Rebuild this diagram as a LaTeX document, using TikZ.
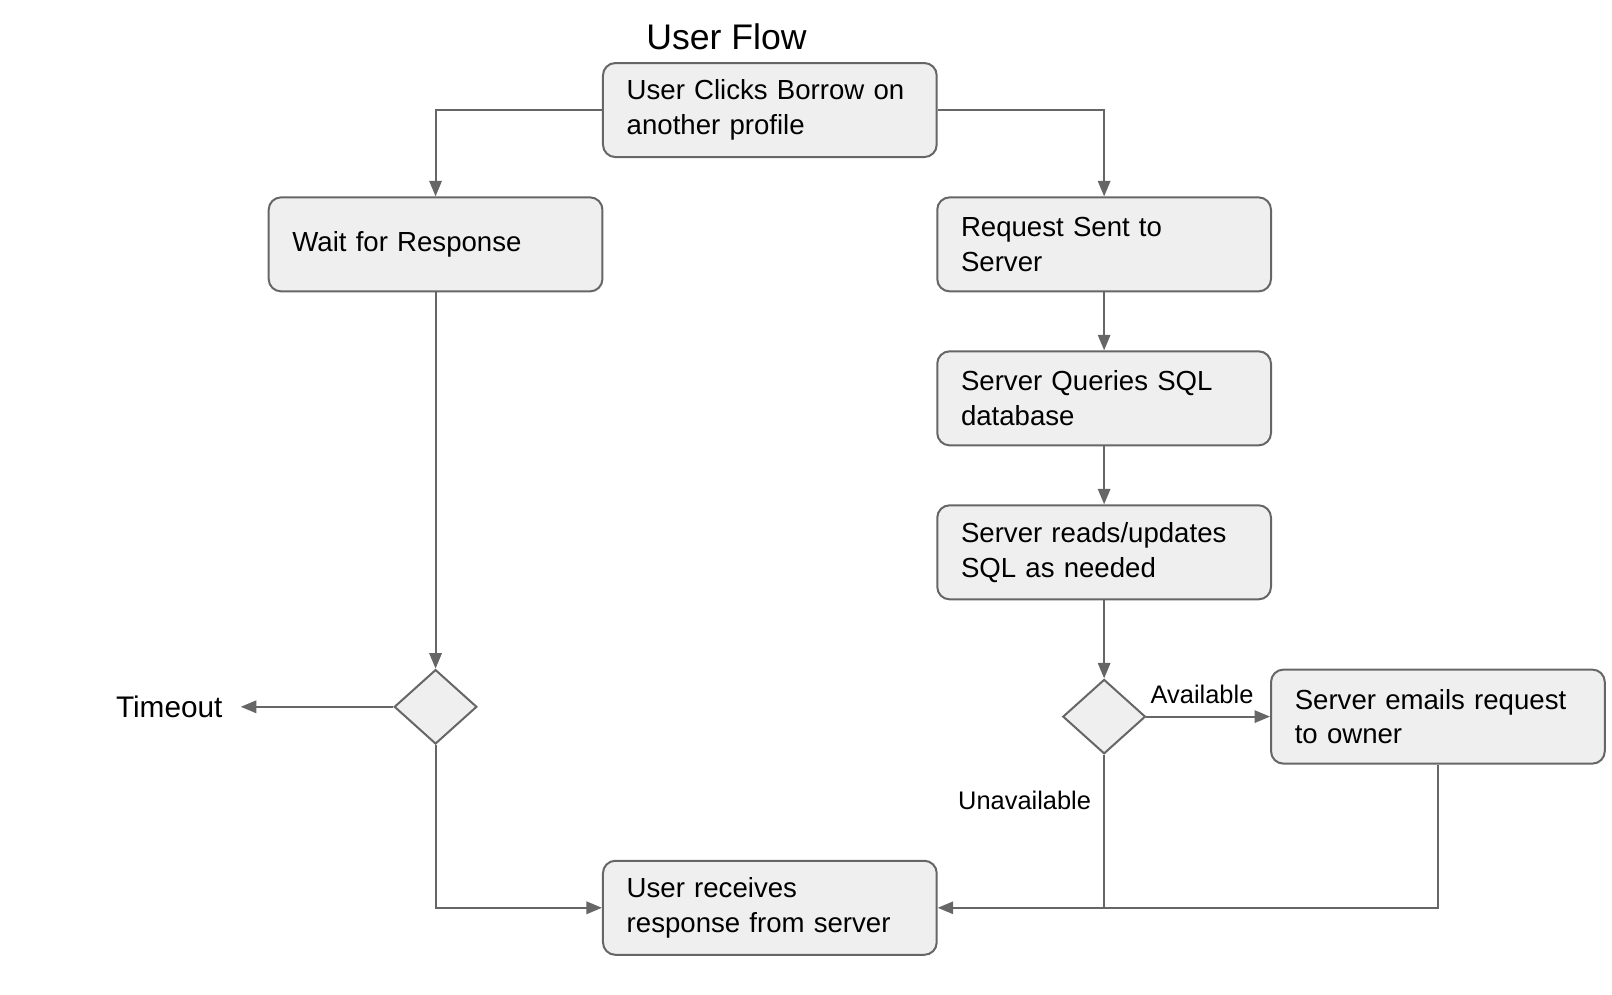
\documentclass[tikz,border=0pt]{standalone}
\usepackage{fontspec}
\setmainfont{Liberation Sans}
\usetikzlibrary{shapes.geometric, arrows.meta}
\definecolor{boxfill}{HTML}{EFEFEF}
\definecolor{linegray}{HTML}{666666}

\begin{document}
\begin{tikzpicture}[
    box/.style={draw=linegray, fill=boxfill, rounded corners=0.12cm,
        line width=0.55pt, minimum width=3.23cm, minimum height=0.91cm,
        text width=2.77cm, inner xsep=0.23cm, align=left,
        font=\fontsize{7.6}{9.6}\selectfont},
    decision/.style={draw=linegray, fill=boxfill, diamond, inner sep=0pt,
        line width=0.55pt, minimum width=0.8cm, minimum height=0.72cm},
    flow/.style={draw=linegray, line width=0.55pt,
        -{Triangle[length=0.15cm, width=0.12cm]}},
    small/.style={font=\fontsize{7}{8.5}\selectfont}
]
\useasboundingbox (0, 0) rectangle (15.6, -9.62);

\node (title) at (7.03, -0.36) {\fontsize{9.8}{12}\selectfont User Flow};

\node[box] (clicks) at (7.45, -1.065) {User Clicks Borrow on\\another profile};
\node[box] (wait) at (4.215, -2.365) {Wait for Response};
\node[box] (sent) at (10.685, -2.365) {Request Sent to\\Server};
\node[box] (query) at (10.685, -3.855) {Server Queries SQL\\database};
\node[box] (update) at (10.685, -5.345) {Server reads/updates\\SQL as needed};
\node[box] (emails) at (13.915, -6.935) {Server emails request\\to owner};
\node[box] (receives) at (7.45, -8.785) {User receives\\response from server};

\node[decision] (timecheck) at (4.215, -6.84) {};
\node[decision] (avail) at (10.685, -6.935) {};

\node[anchor=east, inner xsep=0.17cm, font=\fontsize{8.2}{10}\selectfont]
    (timeout) at (2.33, -6.84) {Timeout};

\coordinate (join) at (avail |- receives.east);

\draw[flow] (clicks.west) -| (wait.north);
\draw[flow] (clicks.east) -| (sent.north);
\draw[flow] (sent) -- (query);
\draw[flow] (query) -- (update);
\draw[flow] (update) -- (avail);
\draw[flow] (wait) -- (timecheck);
\draw[flow] (timecheck) -- (timeout);
\draw[flow] (timecheck.south) |- (receives.west);
\draw[flow] (avail) -- node[small, above, pos=0.45] {Available} (emails);
\draw[flow] (avail.south) -- node[small, left, pos=0.3] {Unavailable} (join)
    -- (receives.east);
\draw[draw=linegray, line width=0.55pt] (emails.south) |- (join);
\end{tikzpicture}
\end{document}
